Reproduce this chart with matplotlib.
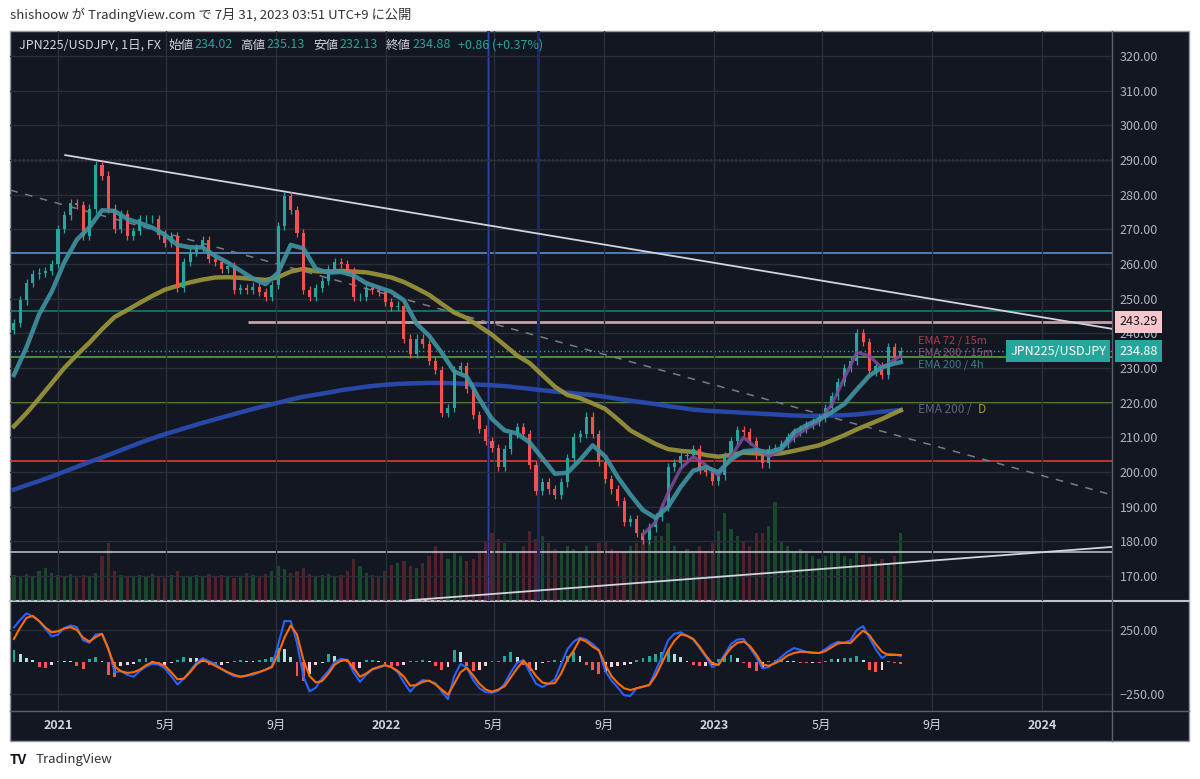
import numpy as np
import pandas as pd
import matplotlib
matplotlib.use("Agg")
import matplotlib.pyplot as plt
import matplotlib.dates as mdates
from matplotlib.patches import Rectangle
from matplotlib.lines import Line2D
from matplotlib.transforms import blended_transform_factory

plt.rcParams['font.family'] = ['Noto Sans CJK JP', 'DejaVu Sans']

# weekly closes (one value per week, Fridays)
first_week = "2020-11-13"
first_open = 241.0
closes = [243, 249.5, 254.5, 257, 257.5, 258, 260, 270, 274, 277.5,
          277, 268, 276, 288.5, 285.5, 276, 270, 274.5, 268, 269.5,
          273, 273, 273, 268.5, 266, 268, 253, 260.5, 263.5, 264.5,
          267, 261.5, 260.5, 258.5, 259.5, 252.5, 253, 252.5, 253.5, 252,
          250.5, 254, 271, 279.5, 275.5, 269, 252.5, 250.5, 253, 255,
          258.5, 260.5, 260, 258, 250.5, 250.5, 253, 252.5, 252, 249,
          247.5, 248, 238.5, 234, 238.5, 237, 232, 229.5, 217, 218.5,
          229.5, 230.5, 224, 216.5, 212.5, 209, 207, 201.5, 206.5, 211,
          213, 211, 202, 194.5, 197, 195, 193.5, 197, 204, 210,
          211, 216, 211, 203, 198, 195, 191.5, 185.5, 186.5, 182.5,
          180.5, 184, 187, 190, 201.5, 202.5, 204.5, 205, 206.5, 200.5,
          200, 197.5, 199, 204.5, 209, 212, 211.5, 209, 205, 202.5,
          206.5, 207, 208, 210, 211.5, 212.5, 213.5, 214.5, 215.5, 218.5,
          222, 226, 230, 232, 240, 237.5, 229, 230.5, 228, 236, 233, 234.88]

volumes = [26, 24, 27, 25, 30, 33, 28, 26, 25, 27,
           24, 26, 25, 28, 45, 58, 30, 26, 24, 25,
           26, 24, 27, 25, 23, 26, 30, 25, 24, 26,
           25, 27, 24, 26, 25, 23, 24, 28, 26, 25,
           27, 30, 35, 32, 28, 30, 33, 27, 25, 26,
           27, 25, 26, 30, 42, 35, 28, 26, 25, 30,
           36, 38, 40, 35, 33, 38, 45, 55, 50, 42,
           48, 45, 40, 42, 50, 60, 68, 62, 58, 50,
           48, 55, 70, 62, 65, 58, 52, 50, 55, 52,
           48, 55, 50, 58, 60, 52, 48, 50, 55, 58,
           62, 60, 65, 65, 78, 55, 50, 52, 48, 55,
           50, 58, 70, 88, 72, 65, 60, 55, 68, 68,
           75, 99, 60, 55, 50, 52, 48, 45, 42, 45,
           50, 48, 45, 42, 50, 46, 44, 40, 42, 38, 45, 68]

macd_line = [270, 330, 380, 355, 320, 260, 200, 215, 265, 285,
             273, 170, 150, 215, 220, 110, -80, -70, -100, -115,
             -70, -35, -15, -20, -50, -110, -175, -130, -70, -5,
             30, 5, -15, -55, -85, -110, -115, -108, -100, -80,
             -60, -35, 135, 320, 320, 150, -110, -230, -200, -125,
             -70, 0, 25, 16, -80, -155, -100, -58, -45, -25,
             -40, -78, -160, -232, -175, -140, -150, -165, -230, -290,
             -110, -15, -45, -140, -205, -235, -240, -225, -170, -80,
             -5, 15, -80, -170, -195, -170, -135, -15, 100, 160,
             190, 175, 140, 95, -70, -145, -200, -260, -265, -205,
             -195, -180, -70, 40, 170, 220, 232, 205, 175, 110,
             40, -40, -15, 60, 140, 175, 180, 110, 40, -50,
             -40, 0, 40, 80, 109, 95, 78, 72, 70, 100,
             135, 158, 150, 170, 250, 280, 190, 100, 31, 62, 60, 47]

signal_line = [180, 270, 345, 360, 320, 270, 232, 240, 262, 272,
               250, 190, 160, 195, 220, 100, -35, -72, -85, -80,
               -60, -25, -2, -10, -30, -80, -135, -130, -80, -20,
               15, -5, -30, -55, -80, -100, -115, -105, -90, -78,
               -60, -40, 60, 190, 285, 215, 20, -110, -160, -148,
               -90, -20, 10, 15, -45, -115, -90, -55, -38, -25,
               -40, -70, -115, -185, -180, -155, -145, -175, -215, -255,
               -170, -80, -45, -105, -170, -215, -232, -215, -190, -120,
               -50, 10, -40, -110, -160, -170, -165, -90, 20, 90,
               180, 160, 120, 90, -20, -110, -165, -205, -219, -205,
               -192, -180, -110, -10, 90, 165, 215, 205, 180, 120,
               50, -10, -23, 45, 110, 150, 160, 125, 60, -20,
               -30, -10, 15, 50, 70, 80, 78, 73, 70, 85,
               115, 145, 150, 148, 200, 245, 210, 140, 80, 55, 55, 55]

macd_hist = [90, 60, 30, 15, -40, -45, -20, 10, 8, 5,
             -30, -55, 20, 40, 10, -100, -120, -35, -25, -15,
             25, 30, 10, -25, -20, -5, 15, 40, 35, 30,
             5, -25, -30, -20, -5, 10, 15, 10, 8, 15,
             20, 40, 110, 100, 40, -110, -150, -90, -20, -10,
             60, 50, 15, 10, -60, -50, 15, 15, 10, -15,
             -35, -35, -25, 10, 10, 15, 10, -30, -60, -40,
             90, 80, -30, -70, -60, -30, 5, 10, 50, 80,
             40, -20, -70, -60, -10, 10, 15, 10, 50, 80,
             50, -20, -60, -90, -80, -40, -30, -25, -15, 15,
             30, 45, 60, 80, 90, 60, 40, 10, -25, -35,
             -30, -20, 20, 50, 55, 30, -10, -50, -70, -50,
             10, 15, 20, 10, 5, -8, -10, -5, -10, 10,
             25, 20, 30, 30, 45, 15, -60, -80, -60, 10, -10, -12]

# moving averages, read every second week plus the last bar
ema_4h = [228, 236, 245.5, 252, 260.5, 267, 270.6, 275.5, 275.3, 273,
          271.8, 270.5, 268.4, 265.5, 264.8, 264.8, 262.3, 260.4, 258.1, 255.8,
          254.2, 257.5, 265.5, 264.5, 258.6, 257.5, 257.7, 256.7, 254.5, 253.2,
          252, 249.5, 242.8, 239.3, 234.4, 229, 227.5, 221, 215.3, 212,
          211.1, 208.5, 204, 199.5, 199.8, 203.5, 207.7, 204.5, 198.5, 193.5,
          189, 186.8, 190, 195.7, 200.4, 201.4, 200, 203.6, 206, 206.3,
          205.7, 206.8, 211.4, 213.5, 215.2, 217.2, 219.6, 223.8, 227.8, 230.2,
          231.3, 231.7]
ema_slow = [213.2, 217, 221.2, 225.6, 230, 233.8, 237.3, 241.2, 244.7, 246.7,
            248.8, 250.8, 252.6, 253.7, 254.7, 255.5, 256.1, 256.2, 256, 255.7,
            255.4, 256.2, 257.8, 258.6, 257.9, 257.8, 258, 257.8, 257.6, 256.9,
            256.1, 254.8, 253, 251.1, 248.5, 246, 244.4, 242, 239.6, 236.6,
            233.6, 231.4, 228, 224.6, 222.2, 221.3, 219.8, 218.2, 215.2, 212,
            210, 208.1, 206.6, 206.1, 205.8, 204.9, 204.4, 204.9, 205.6, 205.4,
            205.1, 205.4, 206.1, 206.9, 207.7, 209.1, 210.6, 212.3, 213.8, 215.3,
            217, 217.8]
ema_day = [194.9, 196.2, 197.4, 198.7, 200.1, 201.5, 202.9, 204.2, 205.6, 207,
           208.4, 209.7, 210.9, 212, 213.1, 214.2, 215.2, 216.2, 217.2, 218.2,
           219.1, 220, 220.9, 221.7, 222.3, 222.9, 223.6, 224.1, 224.6, 225,
           225.3, 225.5, 225.6, 225.7, 225.7, 225.6, 225.4, 225.2, 225, 224.8,
           224.4, 224, 223.6, 223.2, 222.9, 222.5, 222.2, 221.7, 221.1, 220.6,
           220.1, 219.6, 219, 218.5, 218, 217.7, 217.5, 217.3, 217.1, 216.9,
           216.7, 216.5, 216.3, 216.2, 216.2, 216.3, 216.4, 216.6, 217, 217.4,
           217.7, 217.9]
# short EMA only shown from week 100 on
ema_15m = [182, 185.5, 194, 201, 204.5, 202, 199, 204.5, 210, 207,
           204.5, 206.5, 210, 212.5, 214.5, 219.5, 227, 234.5, 233.5, 230,
           232.5, 233.5]

# drawn levels and trend lines
h_levels = [263.1, 246.5, 233.1, 220.0, 203.3, 176.8]
dotted_level = 290.0
pink_level = 243.29
pink_start = "2021-08-01"
last_price = 234.88
resist_dates = ["2021-01-09", "2024-03-19"]
resist_vals = [291.4, 241.3]
dashed_dates = ["2020-11-09", "2024-03-19"]
dashed_vals = [281.3, 193.4]
support_dates = ["2022-01-27", "2024-03-19"]
support_vals = [163.0, 178.4]
marker_dates = ["2022-04-25", "2022-06-19"]

tick_dates = ["2021-01-01", "2021-05-01", "2021-09-01", "2022-01-01", "2022-05-01",
              "2022-09-01", "2023-01-01", "2023-05-01", "2023-09-01", "2024-01-01"]
tick_labels = ["2021", "5月", "9月", "2022", "5月", "9月", "2023", "5月", "9月", "2024"]

BG = "#131722"
GRID = "#2a2e39"
TXT = "#b2b5be"
UP = "#26a69a"
DOWN = "#ef5350"

weeks = pd.date_range(first_week, periods=len(closes), freq="7D")
wx = mdates.date2num(weeks)
ema_x = np.append(wx[::2], wx[-1])
ema15_x = np.append(wx[100::2], wx[-1])
base = mdates.date2num(pd.Timestamp("2021-01-01"))
d2n = lambda s: mdates.date2num(pd.to_datetime(s))

W, H = 1200, 779
def fx(p):
    return p / W
def fy(p):
    return 1 - p / H

fig = plt.figure(figsize=(12, 7.79), dpi=100)
fig.patch.set_facecolor("white")
fig.add_artist(Rectangle((fx(10), fy(741)), fx(1189) - fx(10), fy(31) - fy(741),
                         transform=fig.transFigure, facecolor=BG, edgecolor="#9598a1",
                         lw=1, zorder=-10))

ax = fig.add_axes([fx(10), fy(601), fx(1112) - fx(10), fy(31) - fy(601)])
axm = fig.add_axes([fx(10), fy(711), fx(1112) - fx(10), fy(601) - fy(711)], sharex=ax)
vol = ax.twinx()
ax.set_zorder(3)
vol.set_zorder(2)
for a in (ax, axm, vol):
    a.patch.set_visible(False)
    for s in a.spines.values():
        s.set_visible(False)

# volume
opens = [first_open] + closes[:-1]
cols = [UP if c >= o else DOWN for o, c in zip(opens, closes)]
vcols = ["#1d6b34" if c >= o else "#7a2a30" for o, c in zip(opens, closes)]
vol.bar(wx, volumes, width=3.6, color=vcols, alpha=0.6, linewidth=0)
vol.set_ylim(0, 570)
vol.axis("off")

# grid and levels
ax.grid(True, color=GRID, lw=1, zorder=0)
ax.axhline(dotted_level, color="#b2b5be", lw=1, ls=(0, (1, 2)), zorder=1)
lvl_colors = ["#5b8fcf", "#0f7f71", "#58a047", "#62ad4e", "#e53935", "#b8bbc4"]
for v, c in zip(h_levels, lvl_colors):
    ax.axhline(v, color=c, lw=1.2, zorder=1)
ax.hlines(pink_level, d2n(pink_start), base + 1200, color="#c9a0a6", lw=2, zorder=1)
ax.axhline(last_price, color=UP, lw=1, ls=(0, (1, 2)), zorder=1)
for i, d in enumerate(marker_dates):
    ax.axvline(d2n(d), color="#1c2866", lw=2.2, zorder=1)
    if i == 0:
        ax.axvline(d2n(d), color="#2f47a3", lw=0.7, zorder=1)

ax.plot([d2n(d) for d in resist_dates], resist_vals, color="#d1d4dc", lw=1.3, zorder=2)
ax.plot([d2n(d) for d in dashed_dates], dashed_vals, color="#787b86", lw=1.1,
        ls=(0, (5, 5)), zorder=2)
ax.plot([d2n(d) for d in support_dates], support_vals, color="#d1d4dc", lw=1.3, zorder=2)

# moving averages
ax.plot(ema_x, ema_day, color="#2a4bb0", lw=3.2, alpha=0.95, zorder=3)
ax.plot(ema_x, ema_slow, color="#9c973a", lw=3.2, alpha=0.9, zorder=3)

# candles
WICK = 1.2
lows = [min(o, c) - WICK for o, c in zip(opens, closes)]
highs = [max(o, c) + WICK for o, c in zip(opens, closes)]
ax.vlines(wx, lows, highs, colors=cols, lw=0.9, zorder=4)
ax.bar(wx, np.array(closes) - np.array(opens), bottom=opens, width=3.4,
       color=cols, linewidth=0, zorder=5)

ax.plot(ema15_x, ema_15m, color="#7d4b9b", lw=2.4, alpha=0.85, zorder=6)
ax.plot(ema_x, ema_4h, color="#3f93a2", lw=3.2, alpha=0.9, zorder=6)

# EMA labels at right end
lx = base + 957
ax.text(lx, 237.8, "EMA 72 / 15m", color="#b23a47", fontsize=8, va="center", zorder=7)
ax.text(lx, 234.4, "EMA 200 / 15m", color="#8a5472", fontsize=8, va="center", zorder=7)
ax.text(lx, 231.0, "EMA 200 / 4h", color="#3d7c88", fontsize=8, va="center", zorder=7)
ax.text(lx, 217.9, "EMA 200 / ", color="#5b6680", fontsize=8.5, va="center", zorder=7)
ax.annotate("D", (lx, 217.9), xytext=(43, 0), textcoords="offset points",
            color="#a39c3b", fontsize=8.5, va="center", zorder=7)

ax.set_xlim(base - 53.4, base + 1173)
ax.set_ylim(162.8, 327.2)
ax.yaxis.tick_right()
ax.set_yticks(np.arange(170, 321, 10))
ax.set_yticklabels([f"{v:.2f}" for v in np.arange(170, 321, 10)])
ax.tick_params(axis="y", colors=TXT, labelsize=9, length=0, pad=5.5)
ax.tick_params(axis="x", labelbottom=False, length=0)

# price axis boxes
tr = blended_transform_factory(ax.transAxes, ax.transData)
ax.text(1.0 + 7 / 1102, pink_level, f"{pink_level:.2f}", transform=tr, va="center",
        ha="left", fontsize=9, color="#131722", clip_on=False, zorder=10,
        bbox=dict(boxstyle="square,pad=0.35", fc="#f7c6ca", ec="none"))
ax.text(1.0 + 7 / 1102, last_price, f"{last_price:.2f}", transform=tr, va="center",
        ha="left", fontsize=9, color="white", clip_on=False, zorder=10,
        bbox=dict(boxstyle="square,pad=0.35", fc=UP, ec="none"))
ax.text(1.0 - 6 / 1102, last_price, "JPN225/USDJPY", transform=tr, va="center",
        ha="right", fontsize=9, color="white", clip_on=False, zorder=10,
        bbox=dict(boxstyle="square,pad=0.35", fc=UP, ec="none"))

# MACD pane
hcols = []
for i, h in enumerate(macd_hist):
    prev = macd_hist[i - 1] if i > 0 else h
    if h >= 0:
        hcols.append("#26a69a" if h >= prev else "#b2dfdb")
    else:
        hcols.append("#ffcdd2" if h > prev else "#ff5252")
axm.grid(True, color=GRID, lw=1, zorder=0)
axm.bar(wx, macd_hist, width=3.2, color=hcols, linewidth=0, zorder=2)
axm.plot(wx, macd_line, color="#2962ff", lw=1.5, zorder=3)
axm.plot(wx, signal_line, color="#ff6d00", lw=1.5, zorder=3)
axm.set_ylim(-382.8, 476.6)
axm.yaxis.tick_right()
axm.set_yticks([250, -250])
axm.set_yticklabels(["250.00", "\u2212250.00"])
axm.tick_params(axis="y", colors=TXT, labelsize=9, length=0, pad=5.5)
axm.set_xticks([d2n(d) for d in tick_dates])
axm.set_xticklabels(tick_labels)
axm.tick_params(axis="x", colors="#d1d4dc", labelsize=9, length=0, pad=5.5)
for lbl in axm.get_xticklabels():
    if lbl.get_text().isdigit():
        lbl.set_fontweight("bold")

# frame lines
fig.add_artist(Line2D([fx(10), fx(1189)], [fy(601), fy(601)], transform=fig.transFigure,
                      color="#c0c3cc", lw=1.5))
fig.add_artist(Line2D([fx(10), fx(1189)], [fy(711), fy(711)], transform=fig.transFigure,
                      color="#5d606b", lw=1))
fig.add_artist(Line2D([fx(1112), fx(1112)], [fy(31), fy(741)], transform=fig.transFigure,
                      color="#5d606b", lw=1))

# header / legend / footer
fig.text(fx(10), fy(15), "shishoow が TradingView.com で 7月 31, 2023 03:51 UTC+9 に公開",
         fontsize=9.5, color="#333333", va="center")
fig.text(fx(19), fy(45), "JPN225/USDJPY, 1日, FX", fontsize=9, color="#d1d4dc", va="center")
legend_items = [(168, "始値", 194, "234.02"), (240, "高値", 266, "235.13"),
                (313, "安値", 339, "232.13"), (386, "終値", 412, "234.88")]
for lx0, lab, vx, val in legend_items:
    fig.text(fx(lx0), fy(45), lab, fontsize=9, color="#d1d4dc", va="center")
    fig.text(fx(vx), fy(45), val, fontsize=9, color=UP, va="center")
fig.text(fx(458), fy(45), "+0.86 (+0.37%)", fontsize=9, color=UP, va="center")

fig.text(fx(10), fy(760), "TV", fontsize=10, fontweight="bold", color="#131722", va="center")
fig.text(fx(36), fy(760), "TradingView", fontsize=9.5, color="#333333", va="center")

fig.savefig("out.png", dpi=100)
